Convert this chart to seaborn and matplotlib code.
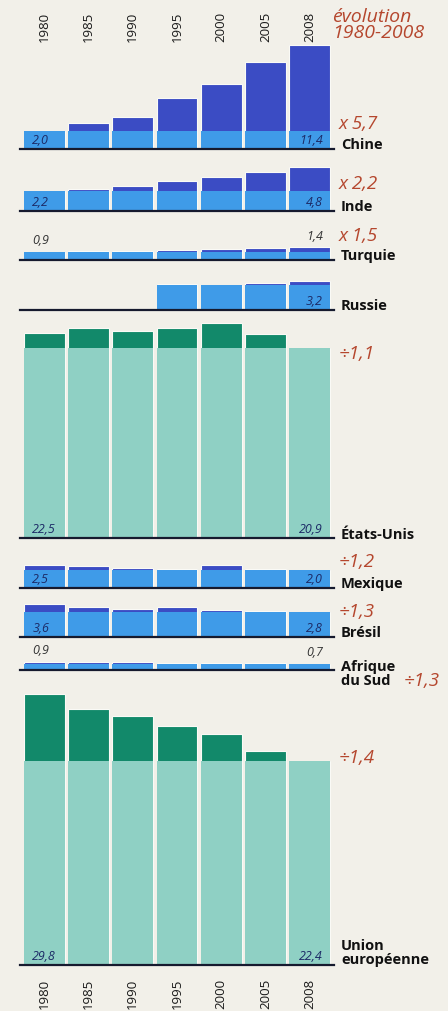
import numpy as np
import pandas as pd
import matplotlib
matplotlib.use("Agg")
import matplotlib.pyplot as plt
import seaborn as sns

# values (index, 1980-2008)
years = ["1980", "1985", "1990", "1995", "2000", "2005", "2008"]
chine = [2.0, 2.9, 3.5, 5.6, 7.1, 9.6, 11.4]
inde = [2.2, 2.4, 2.8, 3.3, 3.7, 4.3, 4.8]
turquie = [0.9, 1.0, 1.0, 1.1, 1.2, 1.3, 1.4]
russie = [np.nan, np.nan, np.nan, 2.9, 2.7, 3.0, 3.2]
etats_unis = [22.5, 23.1, 22.7, 23.1, 23.6, 22.4, 20.9]
mexique = [2.5, 2.4, 2.2, 2.1, 2.5, 2.1, 2.0]
bresil = [3.6, 3.3, 3.1, 3.3, 3.0, 2.9, 2.8]
afrique_sud = [0.9, 0.9, 0.9, 0.8, 0.8, 0.8, 0.7]
ue = [29.8, 28.1, 27.4, 26.3, 25.4, 23.5, 22.4]

pays = ["Chine", "Inde", "Turquie", "Russie", "États-Unis", "Mexique", "Brésil",
        "Afrique\ndu Sud", "Union\neuropéenne"]
series = [chine, inde, turquie, russie, etats_unis, mexique, bresil, afrique_sud, ue]
evolution = ["x 5,7", "x 2,2", "x 1,5", "", "÷1,1", "÷1,2", "÷1,3", "÷1,3", "÷1,4"]

# layout (pixels)
W, H = 448, 1012
X0, X1 = 20, 334
SCALE = 9.1  # px per unit
baselines = [150, 212, 261, 311, 539, 589, 638, 671, 966]
ratio_pos = [(339, 124), (339, 184), (339, 236), None, (339, 354), (339, 562),
             (339, 612), (404, 681), (339, 758)]
name_pos = [145, 207, 256, 306, 535, 584, 633, 674, 953]

BLUE_D, BLUE_L = "#3b4cc4", "#3f9be8"
GREEN_D, GREEN_L = "#12896a", "#8fd0c4"
RED = "#b5472e"
NAVY = "#1c2a66"
BG = "#f2f0e9"

sns.set_theme(style="white")
plt.rcParams["font.family"] = ["Open Sans", "DejaVu Sans"]

fig = plt.figure(figsize=(W / 100, H / 100), dpi=100, facecolor=BG)


def fmt(v):
    return f"{v:.1f}".replace(".", ",")


for i, (name, vals) in enumerate(zip(pays, series)):
    vals = np.array(vals, dtype=float)
    top = np.nanmax(vals)
    base = np.nanmin(vals)
    h = top * SCALE
    ax = fig.add_axes([X0 / W, 1 - baselines[i] / H, (X1 - X0) / W, h / H])
    ax.set_facecolor("none")
    green = name in ("États-Unis", "Union\neuropéenne")
    dark, light = (GREEN_D, GREEN_L) if green else (BLUE_D, BLUE_L)

    df = pd.DataFrame({"annee": years, "val": vals, "socle": np.minimum(vals, base)})
    sns.barplot(data=df, x="annee", y="val", order=years, color=dark, saturation=1,
                width=0.92, ax=ax, errorbar=None, edgecolor="#fafaf6", linewidth=0.8)
    sns.barplot(data=df, x="annee", y="socle", order=years, color=light, saturation=1,
                width=0.92, ax=ax, errorbar=None, linewidth=0)

    ax.set_xlim(-0.55, 6.55)
    ax.set_ylim(0, top)
    ax.set_xlabel("")
    ax.set_ylabel("")
    ax.set_yticks([])
    for s in ["top", "left", "right"]:
        ax.spines[s].set_visible(False)
    ax.spines["bottom"].set_color("#161a2e")
    ax.spines["bottom"].set_linewidth(1.6)

    if i == 0:
        ax.tick_params(axis="x", top=True, labeltop=True, bottom=False, labelbottom=False,
                       length=0, pad=3, labelrotation=90, labelsize=9.5, labelcolor="#1a1a1a")
    elif i == len(pays) - 1:
        ax.tick_params(axis="x", length=0, pad=9, labelrotation=90, labelsize=9.5,
                       labelcolor="#1a1a1a")
    else:
        ax.set_xticks([])

    # first / last values
    small = top < 1.5
    for j, ha, dx in [(0, "left", -0.27), (6, "right", 6.3)]:
        v = vals[j]
        if np.isnan(v):
            continue
        if small:
            ax.annotate(fmt(v), xy=(dx, v), xytext=(0, 4), textcoords="offset points",
                        ha=ha, va="bottom", fontsize=9, style="italic", color="#333333",
                        annotation_clip=False)
        else:
            ax.annotate(fmt(v), xy=(dx, 0), xytext=(0, 2), textcoords="offset points",
                        ha=ha, va="bottom", fontsize=9, style="italic", color=NAVY)

    fig.text(341 / W, 1 - name_pos[i] / H, name, ha="left", va="center",
             fontsize=10.5, fontweight="bold", color="#111111", linespacing=0.95)
    if ratio_pos[i] is not None:
        rx, ry = ratio_pos[i]
        fig.text(rx / W, 1 - ry / H, evolution[i], ha="left", va="center",
                 fontsize=13.5, style="italic", color=RED)

fig.text(332 / W, 1 - 25 / H, "évolution\n1980-2008", ha="left", va="center",
         fontsize=14, style="italic", color=RED, linespacing=0.9)

fig.savefig("out.png", dpi=100, facecolor=BG)
